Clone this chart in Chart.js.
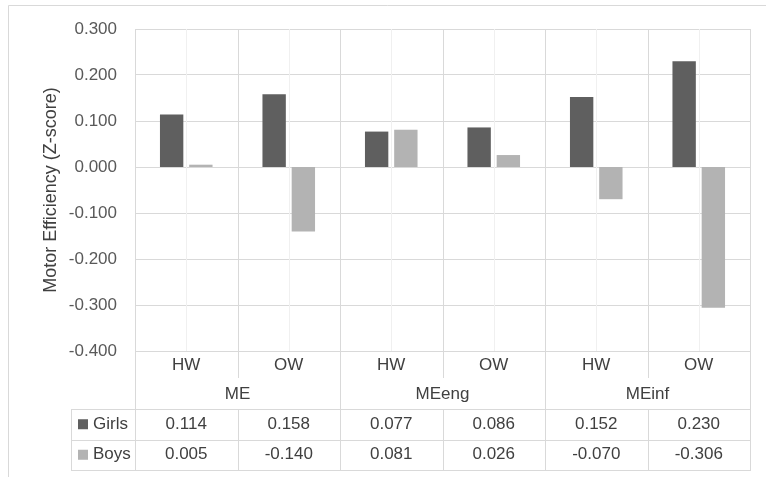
<!DOCTYPE html>
<html>
<head>
    <meta charset="utf-8">
    <title>Motor Efficiency by weight group</title>
    <style>
        body { margin: 0; background: #fff; }
        .chart-box { width: 766px; height: 477px; }
    </style>
</head>
<body>
    <div class="chart-box">
        <canvas id="effChart"></canvas>
    </div>

    <script src="https://cdn.jsdelivr.net/npm/chart.js"></script>
    <script>
        // data
        const groups = ['ME', 'MEeng', 'MEinf'];
        const subLabels = ['HW', 'OW', 'HW', 'OW', 'HW', 'OW'];
        const seriesNames = ['Girls', 'Boys'];
        const girls = [0.114, 0.158, 0.077, 0.086, 0.152, 0.230];
        const boys = [0.005, -0.140, 0.081, 0.026, -0.070, -0.306];
        const yMin = -0.4;
        const yMax = 0.3;
        const yStep = 0.1;

        const girlsColor = '#5f5f5f';
        const boysColor = '#b3b3b3';
        const lineColor = '#d9d9d9';
        const fontFamily = '"Liberation Sans", Arial, sans-serif';

        const px = v => Math.round(v) + 0.5;

        // frame, vertical grid lines and data table under the plot
        const tablePlugin = {
            id: 'dataTable',
            beforeDraw(chart) {
                const c = chart.ctx;
                c.save();
                c.fillStyle = '#fff';
                c.fillRect(0, 0, chart.width, chart.height);
                c.strokeStyle = lineColor;
                c.lineWidth = 1;
                c.beginPath();
                c.moveTo(px(8), chart.height);
                c.lineTo(px(8), px(5));
                c.lineTo(chart.width, px(5));
                c.stroke();
                c.restore();
            },
            beforeDatasetsDraw(chart) {
                const c = chart.ctx;
                const a = chart.chartArea;
                const w = (a.right - a.left) / subLabels.length;
                c.save();
                c.lineWidth = 1;
                // light lines through the middle of each category
                c.strokeStyle = '#f0f0f0';
                c.beginPath();
                for (let i = 0; i < subLabels.length; i++) {
                    const x = px(a.left + (i + 0.5) * w);
                    c.moveTo(x, a.top);
                    c.lineTo(x, a.bottom);
                }
                c.stroke();
                // category boundaries
                c.strokeStyle = lineColor;
                c.beginPath();
                for (let i = 0; i <= subLabels.length; i++) {
                    const x = px(a.left + i * w);
                    c.moveTo(x, a.top);
                    c.lineTo(x, a.bottom);
                }
                c.stroke();
                c.restore();
            },
            afterDraw(chart) {
                const c = chart.ctx;
                const a = chart.chartArea;
                const n = subLabels.length;
                const w = (a.right - a.left) / n;
                const rowSub = a.bottom + 14;
                const rowGroup = a.bottom + 43;
                const tblTop = a.bottom + 58;
                const rowH = 30.5;
                const tblBottom = tblTop + 2 * rowH;
                const tblLeft = 71;

                c.save();
                c.strokeStyle = lineColor;
                c.lineWidth = 1;
                c.beginPath();
                // horizontal lines
                [tblTop, tblTop + rowH, tblBottom].forEach(y => {
                    c.moveTo(tblLeft, px(y));
                    c.lineTo(a.right + 1, px(y));
                });
                // table left edge
                c.moveTo(px(tblLeft), px(tblTop));
                c.lineTo(px(tblLeft), px(tblBottom));
                // verticals
                for (let i = 0; i <= n; i++) {
                    const x = px(a.left + i * w);
                    if (i % 2 === 0) {
                        c.moveTo(x, a.bottom);
                        c.lineTo(x, px(tblBottom));
                    } else {
                        c.moveTo(x, a.bottom);
                        c.lineTo(x, a.bottom + 27);
                        c.moveTo(x, px(tblTop));
                        c.lineTo(x, px(tblBottom));
                    }
                }
                c.stroke();

                c.font = '17px ' + fontFamily;
                c.fillStyle = '#404040';
                c.textAlign = 'center';
                c.textBaseline = 'middle';
                subLabels.forEach((lab, i) => {
                    c.fillText(lab, a.left + (i + 0.5) * w, rowSub);
                });
                groups.forEach((g, i) => {
                    c.fillText(g, a.left + (i * 2 + 1) * w, rowGroup);
                });

                const rows = [girls, boys];
                const colors = [girlsColor, boysColor];
                rows.forEach((vals, r) => {
                    const y = tblTop + (r + 0.5) * rowH;
                    c.textAlign = 'center';
                    c.fillStyle = '#404040';
                    vals.forEach((v, i) => {
                        c.fillText(v.toFixed(3), a.left + (i + 0.5) * w, y);
                    });
                    c.fillStyle = colors[r];
                    c.fillRect(78, y - 5, 10, 10);
                    c.fillStyle = '#404040';
                    c.textAlign = 'left';
                    c.fillText(seriesNames[r], 93, y);
                });
                c.restore();
            }
        };

        const ctx = document.getElementById('effChart').getContext('2d');
        const effChart = new Chart(ctx, {
            type: 'bar',
            data: {
                labels: subLabels,
                datasets: [
                    {
                        label: seriesNames[0],
                        data: girls,
                        backgroundColor: girlsColor,
                        categoryPercentage: 0.57,
                        barPercentage: 0.8
                    },
                    {
                        label: seriesNames[1],
                        data: boys,
                        backgroundColor: boysColor,
                        categoryPercentage: 0.57,
                        barPercentage: 0.8
                    }
                ]
            },
            options: {
                responsive: true,
                maintainAspectRatio: false,
                animation: false,
                layout: {
                    padding: { top: 29, right: 16, bottom: 126, left: 0 }
                },
                plugins: {
                    legend: { display: false },
                    tooltip: { enabled: false }
                },
                scales: {
                    x: {
                        display: false
                    },
                    y: {
                        min: yMin,
                        max: yMax,
                        afterFit: s => { s.width = 135; },
                        ticks: {
                            stepSize: yStep,
                            padding: 18,
                            color: '#595959',
                            font: { family: fontFamily, size: 17 },
                            callback: v => (Math.abs(v) < 1e-9 ? 0 : v).toFixed(3)
                        },
                        grid: {
                            color: lineColor,
                            drawTicks: false
                        },
                        border: { color: lineColor },
                        title: {
                            display: true,
                            text: 'Motor Efficiency (Z-score)',
                            color: '#404040',
                            font: { family: fontFamily, size: 18 },
                            padding: { top: 40, bottom: 0 }
                        }
                    }
                }
            },
            plugins: [tablePlugin]
        });
    </script>
</body>
</html>
